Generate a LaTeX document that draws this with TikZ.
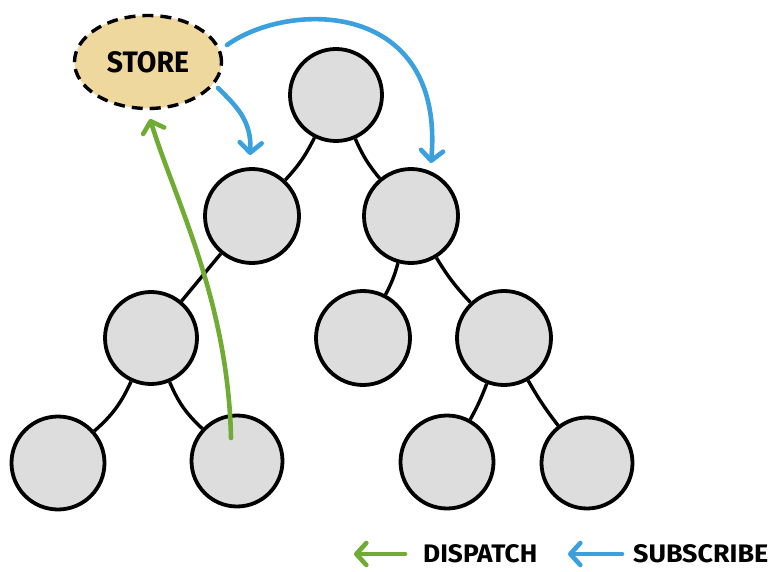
\documentclass[tikz,border=0pt]{standalone}
\usepackage{fontspec}
\setmainfont{Fira Sans}
\usetikzlibrary{arrows.meta,shapes.geometric}
\definecolor{storefill}{RGB}{238,216,158}
\definecolor{nodefill}{RGB}{221,221,221}
\definecolor{subblue}{RGB}{58,160,222}
\definecolor{dispgreen}{RGB}{112,172,52}
\tikzset{
  treenode/.style={circle,draw=black,line width=3.8pt,fill=nodefill,minimum size=92pt,inner sep=0pt},
  treeedge/.style={draw=black,line width=3.4pt},
  storenode/.style={ellipse,draw=black,dash pattern=on 11pt off 7pt,line width=3.4pt,fill=storefill,minimum width=147pt,minimum height=93pt,inner sep=0pt},
  subarrow/.style={draw=subblue,line width=4.6pt,line cap=round,-{Straight Barb[length=10pt,width=22pt,round]}},
  disparrow/.style={draw=dispgreen,line width=4.6pt,line cap=round,-{Straight Barb[length=10pt,width=22pt,round]}},
  lbl/.style={inner sep=0pt,font=\bfseries}
}
\begin{document}
\begin{tikzpicture}[x=1pt,y=-1pt]
\useasboundingbox (0,0) rectangle (771,572);
% nodes
\node[storenode] (store) at (148,62) {\resizebox{82pt}{21pt}{\bfseries STORE}};
\node[treenode] (root) at (336,95) {};
\node[treenode,minimum size=94pt] (l1l) at (252,216) {};
\node[treenode,minimum size=94pt] (l1r) at (411,216) {};
\node[treenode] (l2a) at (151,338) {};
\node[treenode,minimum size=94pt] (l2b) at (363,338) {};
\node[treenode,minimum size=94pt] (l2c) at (504,338) {};
\node[treenode,minimum size=93pt] (l3a) at (58,463) {};
\node[treenode,minimum size=91pt] (l3b) at (237,461) {};
\node[treenode,minimum size=93pt] (l3c) at (447,462) {};
\node[treenode,minimum size=91pt] (l3d) at (587,463) {};
% edges
\draw[treeedge] (root) to[bend left=8] (l1l);
\draw[treeedge] (root) to[bend right=8] (l1r);
\draw[treeedge] (l1l) -- (l2a);
\draw[treeedge] (l1r) to[bend left=6] (l2b);
\draw[treeedge] (l1r) to[bend right=6] (l2c);
\draw[treeedge] (l2a) to[bend left=12] (l3a);
\draw[treeedge] (l2a) to[bend right=12] (l3b);
\draw[treeedge] (l2c) to[bend left=4] (l3c);
\draw[treeedge] (l2c) to[bend right=4] (l3d);
% subscribe arrows
\coordinate (s1) at (227,45);
\coordinate (t1) at (431,163);
\coordinate (s2) at (218,88);
\coordinate (t2) at (250,155);
\draw[subarrow] (s1) .. controls (290,0) and (445,0) .. (t1);
\draw[subarrow] (s2) .. controls (235,105) and (252,120) .. (t2);
% dispatch arrow
\coordinate (g1) at (231,438);
\coordinate (g2) at (150,119);
\draw[disparrow] (g1) .. controls (228,300) and (175,200) .. (g2);
% legend
\coordinate (lg1) at (405,554);
\coordinate (lg2) at (354,554);
\coordinate (lb1) at (622,554);
\coordinate (lb2) at (568,554);
\draw[disparrow] (lg1) -- (lg2);
\draw[subarrow] (lb1) -- (lb2);
\node[lbl,anchor=west] (ldisp) at (423,554) {\resizebox{114pt}{18pt}{\bfseries DISPATCH}};
\node[lbl,anchor=west] (lsub) at (633,554) {\resizebox{135pt}{18pt}{\bfseries SUBSCRIBE}};
\end{tikzpicture}
\end{document}
